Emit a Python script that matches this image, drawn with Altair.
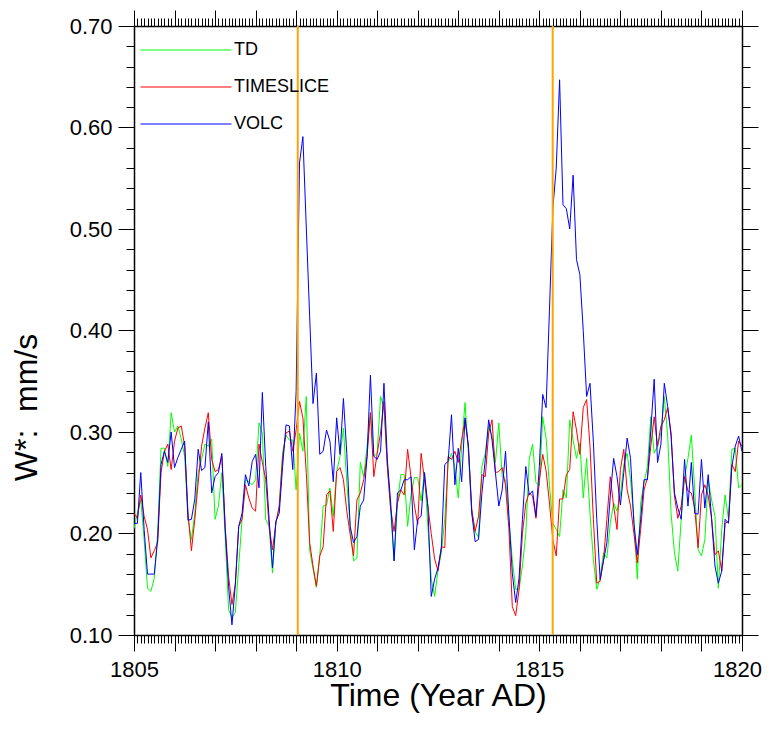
import altair as alt
import pandas as pd

# ---- data (monthly values, Jan 1805 .. Jan 1820) ----
n_months = 181
years = [1805 + i / 12 for i in range(n_months)]

volc = [
    0.210, 0.210, 0.260, 0.204, 0.160, 0.160, 0.160, 0.194, 0.268, 0.281, 0.270, 0.300,
    0.265, 0.275, 0.283, 0.291, 0.213, 0.214, 0.234, 0.283, 0.262, 0.265, 0.310, 0.240,
    0.256, 0.260, 0.279, 0.204, 0.148, 0.110, 0.150, 0.207, 0.220, 0.258, 0.247, 0.271,
    0.278, 0.245, 0.339, 0.266, 0.214, 0.166, 0.212, 0.220, 0.266, 0.307, 0.306, 0.263,
    0.340, 0.565, 0.591, 0.502, 0.414, 0.328, 0.358, 0.278, 0.281, 0.302, 0.291, 0.251,
    0.314, 0.278, 0.333, 0.279, 0.207, 0.191, 0.197, 0.227, 0.233, 0.276, 0.356, 0.276,
    0.273, 0.281, 0.348, 0.273, 0.230, 0.173, 0.240, 0.243, 0.253, 0.253, 0.256, 0.184,
    0.214, 0.217, 0.260, 0.227, 0.138, 0.155, 0.166, 0.186, 0.268, 0.271, 0.317, 0.248,
    0.284, 0.251, 0.314, 0.286, 0.220, 0.192, 0.194, 0.240, 0.273, 0.312, 0.292, 0.260,
    0.227, 0.243, 0.281, 0.217, 0.161, 0.132, 0.156, 0.214, 0.266, 0.238, 0.242, 0.217,
    0.266, 0.337, 0.324, 0.420, 0.520, 0.560, 0.647, 0.524, 0.520, 0.500, 0.553, 0.470,
    0.455, 0.400, 0.335, 0.348, 0.290, 0.214, 0.155, 0.173, 0.191, 0.237, 0.274, 0.256,
    0.228, 0.260, 0.294, 0.274, 0.210, 0.179, 0.214, 0.253, 0.253, 0.302, 0.352, 0.270,
    0.288, 0.348, 0.325, 0.296, 0.240, 0.225, 0.214, 0.273, 0.227, 0.270, 0.220, 0.219,
    0.273, 0.225, 0.258, 0.214, 0.168, 0.151, 0.163, 0.214, 0.210, 0.266, 0.286, 0.296,
    0.281,
]

timeslice = [
    0.220, 0.215, 0.238, 0.217, 0.204, 0.176, 0.183, 0.191, 0.260, 0.281, 0.288, 0.263,
    0.291, 0.304, 0.306, 0.286, 0.220, 0.183, 0.214, 0.250, 0.286, 0.304, 0.319, 0.273,
    0.261, 0.263, 0.276, 0.207, 0.158, 0.130, 0.150, 0.207, 0.214, 0.248, 0.235, 0.225,
    0.222, 0.288, 0.270, 0.253, 0.207, 0.184, 0.210, 0.227, 0.275, 0.299, 0.301, 0.281,
    0.302, 0.330, 0.314, 0.260, 0.191, 0.168, 0.148, 0.178, 0.187, 0.238, 0.242, 0.202,
    0.261, 0.265, 0.253, 0.222, 0.199, 0.178, 0.233, 0.240, 0.253, 0.276, 0.319, 0.256,
    0.279, 0.299, 0.330, 0.266, 0.224, 0.202, 0.230, 0.243, 0.238, 0.283, 0.256, 0.228,
    0.209, 0.279, 0.253, 0.227, 0.200, 0.175, 0.163, 0.187, 0.186, 0.276, 0.273, 0.281,
    0.270, 0.292, 0.312, 0.286, 0.224, 0.202, 0.217, 0.258, 0.256, 0.299, 0.312, 0.260,
    0.261, 0.265, 0.247, 0.204, 0.128, 0.119, 0.145, 0.200, 0.230, 0.240, 0.237, 0.215,
    0.252, 0.278, 0.262, 0.230, 0.194, 0.178, 0.234, 0.234, 0.258, 0.263, 0.320, 0.302,
    0.278, 0.324, 0.332, 0.286, 0.214, 0.151, 0.153, 0.174, 0.214, 0.256, 0.227, 0.204,
    0.263, 0.283, 0.243, 0.227, 0.200, 0.171, 0.204, 0.243, 0.255, 0.286, 0.315, 0.286,
    0.306, 0.312, 0.324, 0.299, 0.237, 0.215, 0.227, 0.256, 0.242, 0.240, 0.225, 0.186,
    0.238, 0.248, 0.237, 0.215, 0.179, 0.183, 0.163, 0.210, 0.212, 0.268, 0.261, 0.291,
    0.286,
]

td = [
    0.205, 0.220, 0.233, 0.194, 0.146, 0.143, 0.156, 0.200, 0.284, 0.284, 0.266, 0.319,
    0.300, 0.306, 0.293, 0.276, 0.214, 0.194, 0.220, 0.260, 0.273, 0.288, 0.286, 0.293,
    0.214, 0.227, 0.260, 0.197, 0.125, 0.117, 0.122, 0.168, 0.214, 0.253, 0.251, 0.248,
    0.253, 0.309, 0.299, 0.214, 0.207, 0.161, 0.210, 0.227, 0.280, 0.297, 0.292, 0.292,
    0.243, 0.299, 0.281, 0.335, 0.184, 0.165, 0.147, 0.178, 0.227, 0.228, 0.245, 0.217,
    0.261, 0.276, 0.304, 0.250, 0.207, 0.173, 0.176, 0.270, 0.256, 0.286, 0.319, 0.276,
    0.279, 0.335, 0.324, 0.266, 0.222, 0.173, 0.230, 0.258, 0.258, 0.207, 0.238, 0.255,
    0.255, 0.232, 0.260, 0.207, 0.155, 0.138, 0.164, 0.181, 0.214, 0.270, 0.279, 0.265,
    0.235, 0.286, 0.329, 0.279, 0.220, 0.202, 0.196, 0.266, 0.279, 0.306, 0.296, 0.270,
    0.309, 0.256, 0.253, 0.214, 0.174, 0.145, 0.145, 0.168, 0.200, 0.273, 0.288, 0.250,
    0.247, 0.315, 0.294, 0.247, 0.210, 0.204, 0.197, 0.243, 0.235, 0.312, 0.292, 0.274,
    0.289, 0.235, 0.274, 0.220, 0.174, 0.145, 0.156, 0.181, 0.176, 0.210, 0.230, 0.222,
    0.238, 0.268, 0.279, 0.253, 0.214, 0.155, 0.230, 0.250, 0.266, 0.315, 0.279, 0.286,
    0.299, 0.335, 0.296, 0.220, 0.181, 0.163, 0.214, 0.255, 0.274, 0.297, 0.243, 0.184,
    0.178, 0.194, 0.253, 0.233, 0.217, 0.146, 0.204, 0.238, 0.214, 0.283, 0.284, 0.245,
    0.248,
]

series_names = ["TD", "TIMESLICE", "VOLC"]
series_colors = ["#00FF00", "#FF0000", "#0000FF"]
eruption_years = [1809.04, 1815.33]

x_tick_values = [round(1805 + i / 12, 6) for i in range(n_months)]
y_tick_values = [round(0.10 + 0.02 * k, 4) for k in range(31)]

# ---- build table ----
rows = []
for name, vals in zip(series_names, [td, timeslice, volc]):
    for t, v in zip(years, vals):
        rows.append({"time": t, "value": v, "series": name})
df = pd.DataFrame(rows)
df_erupt = pd.DataFrame({"time": eruption_years})

FONT = "Liberation Sans"

x_major = "abs(datum.value - round(datum.value)) < 0.001"
y_major = "abs(datum.value * 10 - round(datum.value * 10)) < 0.001"

x_scale = alt.Scale(domain=[1805, 1820], nice=False, zero=False)
y_scale = alt.Scale(domain=[0.10, 0.70], nice=False, zero=False)

x_axis_bottom = alt.Axis(
    orient="bottom",
    values=x_tick_values,
    title="Time (Year AD)",
    titleFontSize=32,
    titleFontWeight="normal",
    titleFont=FONT,
    titleColor="black",
    titleBaseline="middle",
    titleY=60,
    labelExpr=f"({x_major}) && (round(datum.value) % 5 == 0) ? format(round(datum.value), 'd') : ''",
    labelFontSize=22,
    labelFont=FONT,
    labelPadding=8,
    labelOverlap=False,
    labelFlush=False,
    labelColor="black",
    labelOffset={"condition": {"test": "datum.value > 1819.5", "value": -5}, "value": 0},
    tickSize={"condition": {"test": x_major, "value": 16}, "value": 8},
    tickColor="black",
    tickWidth=1,
    domainColor="black",
    domainWidth=1.5,
    grid=False,
)
y_axis_left = alt.Axis(
    orient="left",
    values=y_tick_values,
    title="W*: \u00a0mm/s",
    titleFontSize=32,
    titleFontWeight="normal",
    titleFont=FONT,
    titleColor="black",
    titleBaseline="middle",
    titleX=-108,
    titleY=381,
    labelExpr=f"({y_major}) ? format(datum.value, '.2f') : ''",
    labelFontSize=22,
    labelFont=FONT,
    labelPadding=6,
    labelOverlap=False,
    labelFlush=False,
    labelColor="black",
    tickSize={"condition": {"test": y_major, "value": 16}, "value": 8},
    tickColor="black",
    tickWidth=1,
    domainColor="black",
    domainWidth=1.5,
    grid=False,
)
x_axis_top = alt.Axis(
    orient="top",
    values=x_tick_values,
    title=None,
    labels=False,
    tickSize={"condition": {"test": x_major, "value": 16}, "value": 8},
    tickColor="black",
    tickWidth=1,
    domainColor="black",
    domainWidth=1.5,
    grid=False,
)
y_axis_right = alt.Axis(
    orient="right",
    values=y_tick_values,
    title=None,
    labels=False,
    tickSize={"condition": {"test": y_major, "value": 16}, "value": 8},
    tickColor="black",
    tickWidth=1,
    domainColor="black",
    domainWidth=1.5,
    grid=False,
)

lines = alt.Chart(df).mark_line(strokeWidth=1, clip=True).encode(
    x=alt.X("time:Q", scale=x_scale, axis=x_axis_bottom),
    y=alt.Y("value:Q", scale=y_scale, axis=y_axis_left),
    color=alt.Color(
        "series:N",
        scale=alt.Scale(domain=series_names, range=series_colors),
        legend=alt.Legend(
            orient="none",
            legendX=6,
            legendY=15,
            title=None,
            symbolType="stroke",
            symbolSize=8281,
            symbolStrokeWidth=1,
            symbolOpacity=1,
            labelFontSize=18,
            labelFont=FONT,
            labelColor="black",
            labelOffset=2,
            clipHeight=18,
            rowPadding=19,
            padding=0,
        ),
    ),
)

rules = alt.Chart(df_erupt).mark_rule(color="#FFA500", strokeWidth=2).encode(
    x=alt.X("time:Q", scale=x_scale, axis=x_axis_top),
)

# invisible layer to carry the right-hand y axis
right_axis = alt.Chart(df_erupt).mark_point(opacity=0).encode(
    x=alt.X("time:Q", scale=x_scale, axis=None),
    y=alt.Y("yv:Q", scale=y_scale, axis=y_axis_right),
).transform_calculate(yv="0.4")

chart = (
    alt.layer(lines, rules, right_axis)
    .resolve_axis(x="independent", y="independent")
    .properties(
        width=608,
        height=609,
        autosize=alt.AutoSizeParams(type="none"),
        padding={"left": 126, "top": 18, "right": 20, "bottom": 84},
        background="white",
    )
    .configure_view(strokeOpacity=0)
)

chart.save("out.html", embed_options={"renderer": "svg", "actions": False})
